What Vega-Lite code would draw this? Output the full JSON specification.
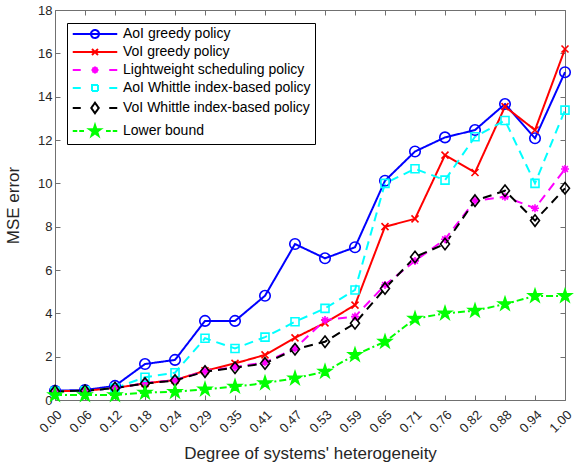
{
  "$schema": "https://vega.github.io/schema/vega-lite/v6.json",
  "width": 510,
  "height": 390,
  "autosize": {"type": "none"},
  "padding": {"left": 55, "top": 10, "right": 9, "bottom": 69},
  "background": "white",
  "config": {
    "font": "Liberation Sans",
    "view": {"stroke": null},
    "axis": {
      "grid": false,
      "domainColor": "#707070",
      "tickColor": "#707070",
      "tickSize": -5,
      "domainWidth": 1,
      "tickWidth": 1,
      "labelColor": "#262626",
      "labelFont": "Liberation Sans",
      "labelFontSize": 13,
      "titleFont": "Liberation Sans",
      "titleFontSize": 17,
      "titleFontWeight": "normal",
      "titleColor": "#262626"
    }
  },
  "data": {
    "values": [
      {"h": "0.00", "s": "AoI greedy policy", "v": 0.43},
      {"h": "0.06", "s": "AoI greedy policy", "v": 0.46},
      {"h": "0.12", "s": "AoI greedy policy", "v": 0.65},
      {"h": "0.18", "s": "AoI greedy policy", "v": 1.66},
      {"h": "0.24", "s": "AoI greedy policy", "v": 1.85},
      {"h": "0.29", "s": "AoI greedy policy", "v": 3.65},
      {"h": "0.35", "s": "AoI greedy policy", "v": 3.65},
      {"h": "0.41", "s": "AoI greedy policy", "v": 4.81},
      {"h": "0.47", "s": "AoI greedy policy", "v": 7.2},
      {"h": "0.53", "s": "AoI greedy policy", "v": 6.54},
      {"h": "0.59", "s": "AoI greedy policy", "v": 7.05},
      {"h": "0.65", "s": "AoI greedy policy", "v": 10.12},
      {"h": "0.71", "s": "AoI greedy policy", "v": 11.47},
      {"h": "0.76", "s": "AoI greedy policy", "v": 12.12},
      {"h": "0.82", "s": "AoI greedy policy", "v": 12.46},
      {"h": "0.88", "s": "AoI greedy policy", "v": 13.66},
      {"h": "0.94", "s": "AoI greedy policy", "v": 12.08},
      {"h": "1.00", "s": "AoI greedy policy", "v": 15.13},
      {"h": "0.00", "s": "VoI greedy policy", "v": 0.4},
      {"h": "0.06", "s": "VoI greedy policy", "v": 0.43},
      {"h": "0.12", "s": "VoI greedy policy", "v": 0.55},
      {"h": "0.18", "s": "VoI greedy policy", "v": 0.77},
      {"h": "0.24", "s": "VoI greedy policy", "v": 0.92},
      {"h": "0.29", "s": "VoI greedy policy", "v": 1.35},
      {"h": "0.35", "s": "VoI greedy policy", "v": 1.69},
      {"h": "0.41", "s": "VoI greedy policy", "v": 2.08},
      {"h": "0.47", "s": "VoI greedy policy", "v": 2.87},
      {"h": "0.53", "s": "VoI greedy policy", "v": 3.56},
      {"h": "0.59", "s": "VoI greedy policy", "v": 4.38},
      {"h": "0.65", "s": "VoI greedy policy", "v": 8.0},
      {"h": "0.71", "s": "VoI greedy policy", "v": 8.36},
      {"h": "0.76", "s": "VoI greedy policy", "v": 11.3},
      {"h": "0.82", "s": "VoI greedy policy", "v": 10.5},
      {"h": "0.88", "s": "VoI greedy policy", "v": 13.54},
      {"h": "0.94", "s": "VoI greedy policy", "v": 12.46},
      {"h": "1.00", "s": "VoI greedy policy", "v": 16.2},
      {"h": "0.00", "s": "Lightweight scheduling policy", "v": 0.4},
      {"h": "0.06", "s": "Lightweight scheduling policy", "v": 0.43},
      {"h": "0.12", "s": "Lightweight scheduling policy", "v": 0.55},
      {"h": "0.18", "s": "Lightweight scheduling policy", "v": 0.78},
      {"h": "0.24", "s": "Lightweight scheduling policy", "v": 0.92},
      {"h": "0.29", "s": "Lightweight scheduling policy", "v": 1.33},
      {"h": "0.35", "s": "Lightweight scheduling policy", "v": 1.52},
      {"h": "0.41", "s": "Lightweight scheduling policy", "v": 1.74},
      {"h": "0.47", "s": "Lightweight scheduling policy", "v": 2.38},
      {"h": "0.53", "s": "Lightweight scheduling policy", "v": 3.69},
      {"h": "0.59", "s": "Lightweight scheduling policy", "v": 3.85},
      {"h": "0.65", "s": "Lightweight scheduling policy", "v": 5.31},
      {"h": "0.71", "s": "Lightweight scheduling policy", "v": 6.42},
      {"h": "0.76", "s": "Lightweight scheduling policy", "v": 7.42},
      {"h": "0.82", "s": "Lightweight scheduling policy", "v": 9.2},
      {"h": "0.88", "s": "Lightweight scheduling policy", "v": 9.38},
      {"h": "0.94", "s": "Lightweight scheduling policy", "v": 8.85},
      {"h": "1.00", "s": "Lightweight scheduling policy", "v": 10.66},
      {"h": "0.00", "s": "AoI Whittle index-based policy", "v": 0.4},
      {"h": "0.06", "s": "AoI Whittle index-based policy", "v": 0.43},
      {"h": "0.12", "s": "AoI Whittle index-based policy", "v": 0.55},
      {"h": "0.18", "s": "AoI Whittle index-based policy", "v": 1.05},
      {"h": "0.24", "s": "AoI Whittle index-based policy", "v": 1.26},
      {"h": "0.29", "s": "AoI Whittle index-based policy", "v": 2.85},
      {"h": "0.35", "s": "AoI Whittle index-based policy", "v": 2.38},
      {"h": "0.41", "s": "AoI Whittle index-based policy", "v": 2.9},
      {"h": "0.47", "s": "AoI Whittle index-based policy", "v": 3.61},
      {"h": "0.53", "s": "AoI Whittle index-based policy", "v": 4.23},
      {"h": "0.59", "s": "AoI Whittle index-based policy", "v": 5.08},
      {"h": "0.65", "s": "AoI Whittle index-based policy", "v": 10.0},
      {"h": "0.71", "s": "AoI Whittle index-based policy", "v": 10.67},
      {"h": "0.76", "s": "AoI Whittle index-based policy", "v": 10.15},
      {"h": "0.82", "s": "AoI Whittle index-based policy", "v": 12.15},
      {"h": "0.88", "s": "AoI Whittle index-based policy", "v": 12.9},
      {"h": "0.94", "s": "AoI Whittle index-based policy", "v": 10.0},
      {"h": "1.00", "s": "AoI Whittle index-based policy", "v": 13.38},
      {"h": "0.00", "s": "VoI Whittle index-based policy", "v": 0.4},
      {"h": "0.06", "s": "VoI Whittle index-based policy", "v": 0.43},
      {"h": "0.12", "s": "VoI Whittle index-based policy", "v": 0.55},
      {"h": "0.18", "s": "VoI Whittle index-based policy", "v": 0.76},
      {"h": "0.24", "s": "VoI Whittle index-based policy", "v": 0.9},
      {"h": "0.29", "s": "VoI Whittle index-based policy", "v": 1.31},
      {"h": "0.35", "s": "VoI Whittle index-based policy", "v": 1.49},
      {"h": "0.41", "s": "VoI Whittle index-based policy", "v": 1.69},
      {"h": "0.47", "s": "VoI Whittle index-based policy", "v": 2.34},
      {"h": "0.53", "s": "VoI Whittle index-based policy", "v": 2.69},
      {"h": "0.59", "s": "VoI Whittle index-based policy", "v": 3.54},
      {"h": "0.65", "s": "VoI Whittle index-based policy", "v": 5.15},
      {"h": "0.71", "s": "VoI Whittle index-based policy", "v": 6.6},
      {"h": "0.76", "s": "VoI Whittle index-based policy", "v": 7.2},
      {"h": "0.82", "s": "VoI Whittle index-based policy", "v": 9.2},
      {"h": "0.88", "s": "VoI Whittle index-based policy", "v": 9.66},
      {"h": "0.94", "s": "VoI Whittle index-based policy", "v": 8.28},
      {"h": "1.00", "s": "VoI Whittle index-based policy", "v": 9.77},
      {"h": "0.00", "s": "Lower bound", "v": 0.23},
      {"h": "0.06", "s": "Lower bound", "v": 0.23},
      {"h": "0.12", "s": "Lower bound", "v": 0.23},
      {"h": "0.18", "s": "Lower bound", "v": 0.34},
      {"h": "0.24", "s": "Lower bound", "v": 0.38},
      {"h": "0.29", "s": "Lower bound", "v": 0.49},
      {"h": "0.35", "s": "Lower bound", "v": 0.62},
      {"h": "0.41", "s": "Lower bound", "v": 0.78},
      {"h": "0.47", "s": "Lower bound", "v": 1.0},
      {"h": "0.53", "s": "Lower bound", "v": 1.31},
      {"h": "0.59", "s": "Lower bound", "v": 2.08},
      {"h": "0.65", "s": "Lower bound", "v": 2.69},
      {"h": "0.71", "s": "Lower bound", "v": 3.75},
      {"h": "0.76", "s": "Lower bound", "v": 4.0},
      {"h": "0.82", "s": "Lower bound", "v": 4.12},
      {"h": "0.88", "s": "Lower bound", "v": 4.43},
      {"h": "0.94", "s": "Lower bound", "v": 4.8},
      {"h": "1.00", "s": "Lower bound", "v": 4.8}
    ]
  },
  "resolve": {"axis": {"x": "independent", "y": "independent"}},
  "layer": [
    {
      "mark": {"type": "line", "strokeWidth": 2},
      "encoding": {
        "x": {
          "field": "h", "type": "ordinal", "sort": null,
          "scale": {"type": "point", "padding": 0},
          "axis": {"orient": "bottom", "title": "Degree of systems' heterogeneity", "labelAngle": -45, "labelPadding": 13, "labelOffset": 0, "titlePadding": 10}
        },
        "y": {
          "field": "v", "type": "quantitative",
          "scale": {"domain": [0, 18], "nice": false},
          "axis": {"orient": "left", "title": "MSE error", "values": [0, 2, 4, 6, 8, 10, 12, 14, 16, 18], "labelPadding": 8, "titlePadding": 15}
        },
        "color": {
          "field": "s", "type": "nominal",
          "scale": {
            "domain": ["AoI greedy policy", "VoI greedy policy", "Lightweight scheduling policy", "AoI Whittle index-based policy", "VoI Whittle index-based policy", "Lower bound"],
            "range": ["#0000ff", "#ff0000", "#ff00ff", "#00ffff", "#000000", "#00ff00"]
          },
          "legend": {
            "orient": "none", "legendX": 12, "legendY": 13, "title": null,
            "strokeColor": "#000000", "fillColor": "#ffffff", "padding": 4,
            "labelFont": "Liberation Sans", "labelFontSize": 14, "labelColor": "#000000", "labelLimit": 400,
            "symbolSize": 100, "symbolStrokeWidth": 2, "labelOffset": 38, "rowPadding": 3,
            "encode": {
              "symbols": {
                "update": {
                  "shape": {"signal": "['M-1.05,0L7.85,0M4.2,0A0.8,0.8,0,1,1,2.6,0A0.8,0.8,0,1,1,4.2,0', 'M-1.05,0L7.85,0M2.8,-0.6L4,0.6M2.8,0.6L4,-0.6', 'M-1.05,0L0.55,0M6.25,0L7.85,0M2.7,0L4.1,0M3.4,-0.7L3.4,0.7M2.9,-0.5L3.9,0.5M2.9,0.5L3.9,-0.5', 'M-1.05,0L0.55,0M6.25,0L7.85,0M2.8,-0.6L4,-0.6L4,0.6L2.8,0.6Z', 'M-1.05,0L0.55,0M6.25,0L7.85,0M3.4,-1.05L4.15,0L3.4,1.05L2.65,0Z', 'M-1.05,0L-0.15,0M0.25,0L1.2,0M5.6,0L6.55,0M6.95,0L7.85,0M3.4,-1.2L3.669,-0.371L4.541,-0.371L3.836,0.141L4.105,0.971L3.4,0.459L2.695,0.971L2.964,0.141L2.259,-0.371L3.131,-0.371Z'][indexof(['AoI greedy policy','VoI greedy policy','Lightweight scheduling policy','AoI Whittle index-based policy','VoI Whittle index-based policy','Lower bound'], datum.value)]"},
                  "fill": {"signal": "datum.value === 'Lower bound' ? '#00ff00' : 'transparent'"},
                  "stroke": {"signal": "['#0000ff','#ff0000','#ff00ff','#00ffff','#000000','#00ff00'][indexof(['AoI greedy policy','VoI greedy policy','Lightweight scheduling policy','AoI Whittle index-based policy','VoI Whittle index-based policy','Lower bound'], datum.value)]"},
                  "strokeDash": {"value": [1, 0]},
                  "opacity": {"value": 1},
                  "size": {"value": 100}
                }
              }
            }
          }
        },
        "strokeDash": {
          "field": "s", "type": "nominal",
          "scale": {
            "domain": ["AoI greedy policy", "VoI greedy policy", "Lightweight scheduling policy", "AoI Whittle index-based policy", "VoI Whittle index-based policy", "Lower bound", "_"],
            "range": [[1, 0], [1, 0], [9, 6], [9, 6], [9, 6], [7, 3, 2, 3], [1, 0]]
          },
          "legend": null
        }
      }
    },
    {
      "mark": {"type": "point", "strokeWidth": 1.6, "size": 100, "opacity": 1, "filled": false},
      "encoding": {
        "x": {
          "field": "h", "type": "ordinal", "sort": null,
          "scale": {"type": "point", "padding": 0},
          "axis": {"orient": "top", "labels": false, "title": null}
        },
        "y": {
          "field": "v", "type": "quantitative",
          "scale": {"domain": [0, 18], "nice": false},
          "axis": {"orient": "right", "labels": false, "title": null, "values": [0, 2, 4, 6, 8, 10, 12, 14, 16, 18]}
        },
        "color": {"field": "s", "type": "nominal"},
        "fill": {
          "field": "s", "type": "nominal",
          "scale": {
            "domain": ["AoI greedy policy", "VoI greedy policy", "Lightweight scheduling policy", "AoI Whittle index-based policy", "VoI Whittle index-based policy", "Lower bound", "__"],
            "range": ["transparent", "transparent", "#ff00ff", "transparent", "transparent", "#00ff00", "transparent"]
          },
          "legend": null
        },
        "shape": {
          "field": "s", "type": "nominal",
          "scale": {
            "domain": ["AoI greedy policy", "VoI greedy policy", "Lightweight scheduling policy", "AoI Whittle index-based policy", "VoI Whittle index-based policy", "Lower bound", "___"],
            "range": [
              "M1.05,0A1.05,1.05,0,1,1,-1.05,0A1.05,1.05,0,1,1,1.05,0Z",
              "M-0.7,-0.7L0.7,0.7M-0.7,0.7L0.7,-0.7",
              "M-0.8,0L0.8,0M0,-0.8L0,0.8M-0.57,-0.57L0.57,0.57M-0.57,0.57L0.57,-0.57",
              "M-0.8,-0.8L0.8,-0.8L0.8,0.8L-0.8,0.8Z",
              "M0,-1.15L0.9,0L0,1.15L-0.9,0Z",
              "M0,-1.35L0.303,-0.417L1.284,-0.417L0.49,0.159L0.794,1.092L0,0.516L-0.794,1.092L-0.49,0.159L-1.284,-0.417L-0.303,-0.417Z",
              "circle"
            ]
          },
          "legend": null
        }
      }
    }
  ]
}
